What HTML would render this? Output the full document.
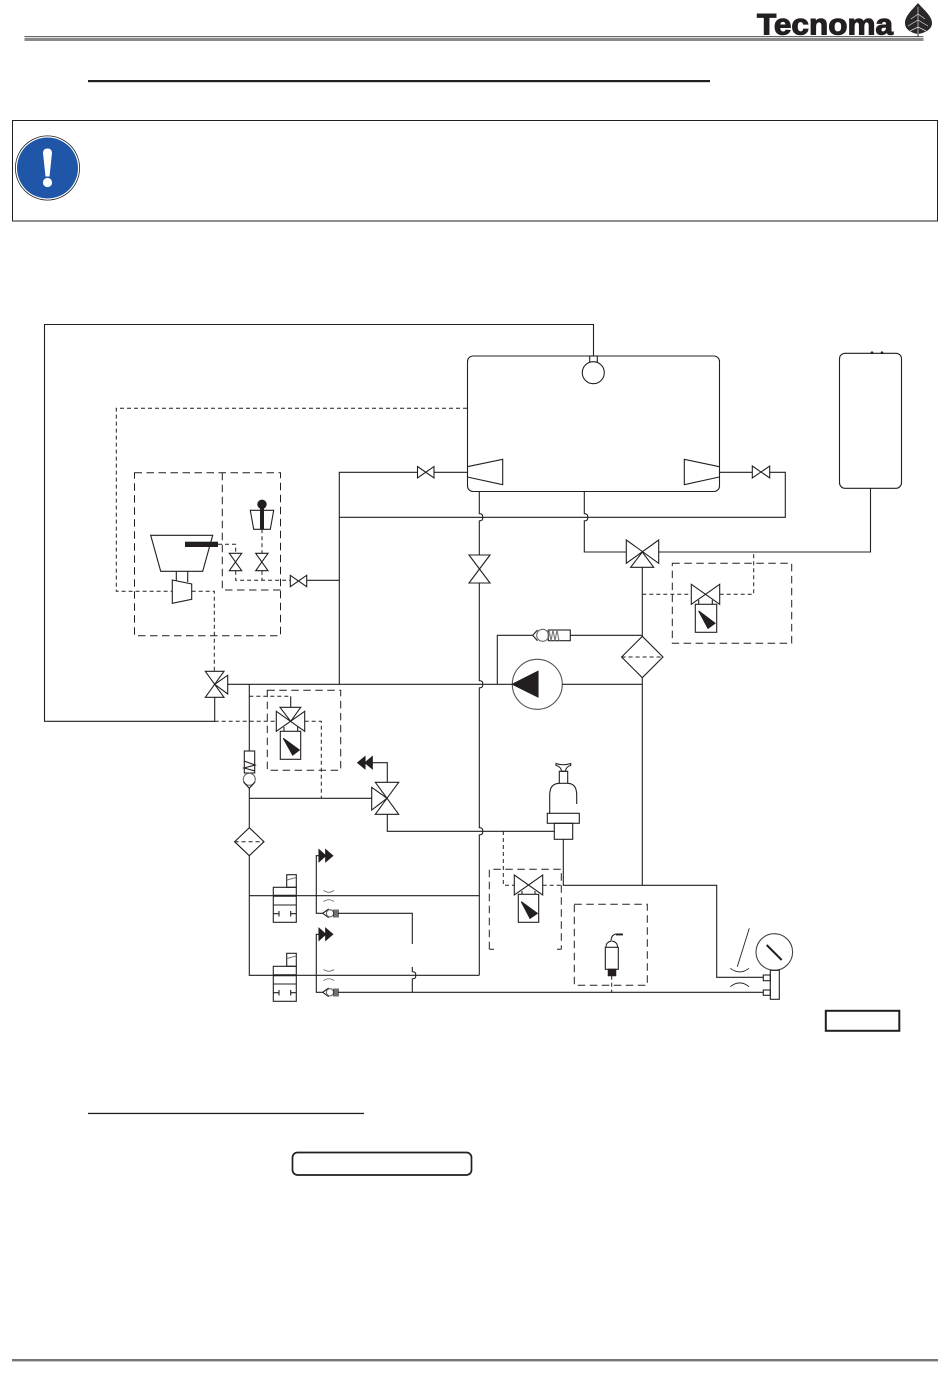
<!DOCTYPE html>
<html>
<head>
<meta charset="utf-8">
<style>
html,body{margin:0;padding:0;background:#fff;width:950px;height:1397px;overflow:hidden}
svg{display:block}
</style>
</head>
<body>
<svg xmlns="http://www.w3.org/2000/svg" width="950" height="1397" viewBox="0 0 950 1397">
<rect width="950" height="1397" fill="#fff"/>

<!-- header -->
<rect x="24.5" y="36" width="899" height="1.2" fill="#666"/>
<rect x="24.5" y="38" width="899" height="3" fill="#8a8a8a"/>
<text x="757" y="34.5" font-family="'Liberation Sans',sans-serif" font-weight="700" font-size="30" textLength="136" lengthAdjust="spacingAndGlyphs" fill="#231f20" stroke="#231f20" stroke-width="1.1">Tecnoma</text>
<path d="M918 3 C912 10 905 16 905 23 C905 30 912 33 917.5 34 V37 H918.5 V34 C924 33 932 30 932 23 C932 16 924 10 918 3Z" fill="#2b2829"/>
<path d="M918 7V34M918 14l-7 5M918 14l7 5M918 20l-10 6M918 20l10 6M918 27l-8 4M918 27l8 4" stroke="#ddd" stroke-width=".7" fill="none"/>
<rect x="88" y="80" width="622" height="2.2" fill="#231f20"/>

<!-- notice -->
<rect x="12.5" y="120.5" width="925" height="100.5" fill="none" stroke="#231f20" stroke-width="1"/>
<circle cx="47.500" cy="168" r="32.500" fill="#231f20"/>
<circle cx="47.500" cy="168" r="31.700" fill="#fff"/>
<circle cx="47.500" cy="168" r="30.500" fill="#1f56a8"/>
<path d="M43 153 Q43 148.500 47.500 148.500 Q52 148.500 52 153 L49.500 176.500 H45.500Z" fill="#fff"/>
<circle cx="47.500" cy="182.500" r="4.600" fill="#fff"/>

<g fill="none" stroke="#231f20" stroke-width="1.1">
<!-- tank -->
<rect x="467.5" y="356" width="252" height="135.5" rx="5.5"/>
<rect x="839.5" y="353.3" width="62" height="135" rx="5.5"/>
<path d="M870.5 488.3V552H658.7"/>
<circle cx="872" cy="352.7" r=".8" fill="#231f20"/>
<circle cx="882" cy="352.7" r=".8" fill="#231f20"/>
<path d="M467.3 466.7L502.7 459.3V484.7L467.3 477"/>
<path d="M719.3 466.7L684.3 459.3V484.7L719.3 477"/>
<path d="M593.5 356V324.5H44.5V721.3H214.7V697.3"/>
<rect x="589.7" y="356" width="7.6" height="6"/>
<circle cx="593.3" cy="372.7" r="11" fill="#fff"/>

<!-- suction/return lines -->
<path d="M339.3 684.3V472.3H417.5M434 472.3H467.3"/>
<path d="M417.5 466.5L434 478V466.5L417.5 478Z"/>
<path d="M719.3 472.3H752.3M769.7 472.3H785.3V517.3H339.3"/>
<path d="M752.3 466L769.7 478V466L752.3 478Z"/>
<path d="M479.3 491.3V513.7q4 0 3.3 3.6q.7 3.6-3.3 3.6V555M479.3 583V680.7q4 0 3.3 3.6q.7 3.6-3.3 3.6V827.7q4 0 3.3 3.6q.7 3.6-3.3 3.6V975.3"/>
<path d="M584.3 491.3V513.7q4 0 3.3 3.6q.7 3.6-3.3 3.6V552H626.3"/>
<path d="M469 555H490L469 583H490Z"/>

<!-- top right 3 way valve -->
<path d="M626.3 540L658.7 563.3V540L626.3 563.3Z"/>
<path d="M642.3 552L630.7 567.3H653.7Z"/>
<path d="M642.3 567.3V636.3"/>
<path d="M642.3 636.3L663 657L642.3 677.7L621.6 657Z"/>
<path d="M642.3 677.7V885.3"/>
<path d="M691.3 584.3L719.7 604.3V584.3L691.3 604.3Z"/>
<path d="M698.7 600V604.3M712.3 600V604.3"/>
<rect x="695.3" y="604.3" width="21.4" height="28"/>
<path d="M698.7 611L715 623.3L708 628.3Z" fill="#231f20"/>

<!-- check valve above pump -->
<path d="M642.3 635.3H570.3M532.7 635.3H497.3V684.3"/>
<rect x="548.3" y="630" width="22" height="10.7"/>
<circle cx="542.7" cy="635.3" r="6" stroke="#666"/>
<path d="M537.5 630L532.7 635.3L537.5 640.7"/>
<path d="M549 630l2 10.7l2-10.7l2 10.7l2-10.7l2 10.7" stroke="#777"/>

<!-- pump -->
<circle cx="537.3" cy="684.3" r="25" stroke="#555"/>
<path d="M538 671.3V697L512.3 684.3Z" fill="#231f20"/>
<path d="M227.7 684.3H512.3M562.3 684.3H642.3"/>

<!-- left 3-way -->
<path d="M205.3 671.3H224L205.3 697.3H224Z"/>
<path d="M214.7 684.3L227.7 675.3V694Z"/>

<!-- lift valve column -->
<path d="M249.3 684.3V751"/>
<rect x="244.3" y="751" width="10.4" height="22"/>
<path d="M244 761l11 4l-11 3l11 3M244 773h11"/>
<circle cx="249.3" cy="779.3" r="6" fill="#fff" stroke="#666"/>
<path d="M243.5 782L249.3 788.3L255 782"/>
<path d="M249.3 788.3V827.7M249.3 855.7V975.3H479.3M249.3 798.3H371.7M249.3 895.7H479.3"/>
<path d="M249.3 827.7L264 841.7L249.3 855.7L234.6 841.7Z"/>

<!-- valve in box 2 -->
<path d="M290.7 696.3V707.3"/>
<path d="M280 707.3H300.7L290.7 721.3Z"/>
<path d="M276.3 711.3L304.7 731.3V711.3L276.3 731.3Z"/>
<path d="M284 727V731.3M297.7 727V731.3"/>
<rect x="280.3" y="731.3" width="20.4" height="28"/>
<path d="M283.3 738.3L299.3 750L292.7 755Z" fill="#231f20"/>

<!-- agitation valve -->
<path d="M375.3 782.3H398.7L375.3 814.3H398.7Z"/>
<path d="M387 798.3L371.7 787.3V810Z"/>
<path d="M387.3 782.3V762.7H372M387.3 814.3V831.3H554.3"/>
<path d="M365 756.7L357.7 762.7L365 768.7ZM372.3 756.7L365 762.7L372.3 768.7Z" fill="#231f20"/>

<!-- regulator -->
<path d="M556 763.5Q563 766 570.7 763.5V765.5Q566 766.5 565.5 771.3H561.5Q561 766.5 556 765.5Z"/>
<rect x="559.3" y="771.3" width="8.4" height="12"/>
<path d="M549.7 795Q549.7 783.5 559.3 783.3M567.7 783.3Q576.7 783.5 576.7 795M549.7 795V813.3M576.7 795V804"/>
<rect x="547.3" y="813.3" width="32" height="10"/>
<rect x="554.3" y="823.3" width="18.4" height="16"/>
<path d="M563.3 839.3V885.3H716.7V977.3H763.3"/>

<!-- nozzle valve in box bottom -->
<path d="M514.3 875L542.7 895V875L514.3 895Z"/>
<path d="M522 891V894.3M535 891V894.3"/>
<rect x="518.3" y="894.3" width="20.4" height="28"/>
<path d="M521.3 901.7L537.3 913.3L530 918.3Z" fill="#231f20"/>

<!-- solenoids -->
<g>
<rect x="273.3" y="887.3" width="23" height="35"/>
<path d="M273.3 905H296.3"/>
<rect x="286.7" y="874.7" width="9.6" height="12.6"/>
<path d="M287 880L296 877.5" stroke="#777"/>
<path d="M273.3 913.7H279M279 911V916.5M296.3 913.7H290.7M290.7 911V916.5"/>
<path d="M273.3 895.7H296" stroke-width="2"/>
</g>
<g>
<rect x="273.3" y="966.3" width="23" height="35"/>
<path d="M273.3 984H296.3"/>
<rect x="286.7" y="953.3" width="9.6" height="13"/>
<path d="M287 958.5L296 956" stroke="#777"/>
<path d="M273.3 992.7H279M279 990V995.5M296.3 992.7H290.7M290.7 990V995.5"/>
<path d="M273.3 975.3H296" stroke-width="2"/>
</g>

<!-- nozzles right side -->
<path d="M319 855.7H316.3V913.3H322.7"/>
<path d="M319 934.3H316.3V992.3H322.7"/>
<path d="M319 849.7L325.7 855.7L319 861.7ZM325.7 849.7L332.7 855.7L325.7 861.7Z" fill="#231f20"/>
<path d="M319 928.3L325.7 934.3L319 940.3ZM325.7 928.3L332.7 934.3L325.7 940.3Z" fill="#231f20"/>
<path d="M323.5 890.5Q329 894 334 890.5M323.5 901.5Q329 898 334 901.5M323.5 969.5Q329 973 334 969.5M323.5 980.5Q329 977 334 980.5" stroke="#666" stroke-width=".8"/>
<path d="M328.7 909L322.7 913.3L328.7 917.7"/>
<circle cx="330" cy="913.3" r="3.6" stroke="#666"/>
<path d="M334 909.5V917.5M336 909.5V917.5M338 909.5V917.5" stroke-width="1.3"/>
<path d="M328.7 988L322.7 992.3L328.7 996.7"/>
<circle cx="330" cy="992.3" r="3.6" stroke="#666"/>
<path d="M334 988.5V996.5M336 988.5V996.5M338 988.5V996.5" stroke-width="1.3"/>
<path d="M338 913.3H412.3V944M412.3 967V971.7q4 0 3.3 3.6q.7 3.6-3.3 3.6V992.3"/>
<path d="M338 992.3H763.3"/>

<!-- sensor -->
<rect x="605.3" y="947.3" width="13" height="22"/>
<path d="M606 947Q606 942 611.5 941M617.5 947Q617.5 942 612 941M611 941Q611 935 616 934H622" stroke-width="1"/>
<path d="M616 934.5H623" stroke-width="1.8"/>
<rect x="608.3" y="969.3" width="7.4" height="6.4" fill="#231f20"/>

<!-- gauge -->
<circle cx="774.3" cy="952" r="18.3" stroke="#444"/>
<path d="M766.7 945L781.7 960" stroke-width="2"/>
<rect x="770.3" y="970.3" width="9" height="29"/>
<rect x="763.3" y="975" width="7" height="5.7"/>
<rect x="763.3" y="990" width="7" height="5.3"/>
<path d="M730.3 968.3Q739.7 975.5 749 968.3M730.3 986.7Q739.7 979 749 986.7M737.3 966.7L749.3 928.3" stroke-width=".9"/>

<!-- hopper -->
<path d="M150.7 535.3H212.7L202.7 571.3H160.7Z" fill="#fff"/>
<path d="M176.3 571.3V580.5M187.7 571.3V582"/>
<path d="M172.3 580L191.7 584V599.3L172.3 603.3Z" fill="#fff"/>
<rect x="185" y="541.7" width="33" height="5.3" fill="#231f20" stroke="none"/>

<path d="M229.3 553.3H241.7L229.3 570.7H241.7Z"/>
<path d="M255.7 553.3H268L255.7 570.7H268Z"/>
<path d="M290.3 575.3L306.7 586.7V575.3L290.3 586.7Z"/>
<path d="M306.7 580.3H339.3"/>
<path d="M250.3 510.3H273.7L270.3 529.3H253.7Z"/>
<rect x="260" y="504" width="4" height="25.5" fill="#231f20" stroke="none"/>
<circle cx="262" cy="504.3" r="4.7" fill="#231f20" stroke="none"/>
</g>

<!-- long-dash boxes -->
<g fill="none" stroke="#231f20" stroke-width="1" stroke-dasharray="7.5 4.5">
<rect x="134.5" y="472.7" width="146" height="163"/>
<path d="M222.3 472.7V590H280.5"/>
<rect x="267.3" y="690.3" width="73.4" height="80"/>
<rect x="672.3" y="563.3" width="119.4" height="80"/>
<path d="M489.3 949.3V869.3H561.3V949.3"/>
<path d="M489.3 949.3H494M557 949.3H561.3"/>
<rect x="574.3" y="904.3" width="73" height="81"/>
</g>

<!-- short-dash pilot lines -->
<g fill="none" stroke="#231f20" stroke-width="1" stroke-dasharray="4 3">
<path d="M467 408.3H116.3V591.3H172.3"/>
<path d="M191.7 591.3H214.3V671"/>
<path d="M218 544.3H235.7V553.3"/>
<path d="M235.7 570.7V580.3H290.3"/>
<path d="M262 529.3V553.3M262 570.7V580.3"/>
<path d="M249.3 696.3H290.7"/>
<path d="M214.7 721.3H276.3M304.7 721.3H321.3V798.3"/>
<path d="M642.3 594.3H691.3M719.7 594.3H753.7V552"/>
<path d="M621.6 657H663M234.6 841.7H264"/>
<path d="M503.3 831V885.3H514.3M542.7 885.3H563.3"/>
<path d="M611.7 975.7V992.3"/>
</g>

<!-- footer elements -->
<rect x="825.8" y="1010.8" width="73.5" height="20" fill="none" stroke="#231f20" stroke-width="2"/>
<rect x="88" y="1112.8" width="276" height="1.3" fill="#231f20"/>
<rect x="292.5" y="1152.5" width="179" height="22.5" rx="5" fill="none" stroke="#231f20" stroke-width="1.7"/>
<rect x="12" y="1359" width="926" height="2.4" fill="#777"/>
</svg>
</body>
</html>
